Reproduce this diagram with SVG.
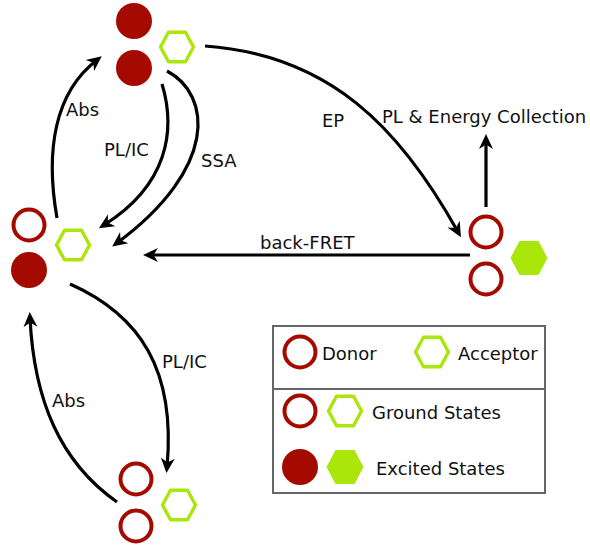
<svg xmlns="http://www.w3.org/2000/svg" xmlns:xlink="http://www.w3.org/1999/xlink" width="590" height="548" viewBox="0 0 590 548">
<style>
text{font-family:"DejaVu Sans",Verdana,sans-serif;font-size:18px;fill:#111}
.dO{fill:none;stroke:#a50a00;stroke-width:4}
.dF{fill:#a50a00}
.aO{fill:none;stroke:#aae60a;stroke-width:3.4;stroke-linejoin:round}
.aF{fill:#aae60a}
.c{fill:none;stroke:#000;stroke-width:3.2;marker-end:url(#ah)}
</style>
<defs>
<marker id="ah" markerUnits="userSpaceOnUse" markerWidth="20" markerHeight="20" refX="10" refY="10" orient="auto" viewBox="0 0 20 20">
<path d="M16,10 L1,3 L5.5,10 L1,17 Z" fill="#000"/>
</marker>
<polygon id="hex" points="16.5,0 8.5,14.8 -8.5,14.8 -16.5,0 -8.5,-14.8 8.5,-14.8"/>
<polygon id="hexF" points="18.5,0 9.5,17 -9.5,17 -18.5,0 -9.5,-17 9.5,-17"/>
</defs>
<rect width="590" height="548" fill="#fff"/>
<g id="connectors">
<path class="c" d="M57,218 C45,150 55,92 97,60"/>
<path class="c" d="M162,84 C176,130 168,185 104,225"/>
<path class="c" d="M167,71 C212,95 218,168 117,243"/>
<path class="c" d="M470,255 L149,255"/>
<path class="c" d="M205,46 C330,55 400,128 458,232"/>
<path class="c" d="M486,207 L486,140"/>
<path class="c" d="M70,284 C140,315 176,370 167,467"/>
<path class="c" d="M117,502 C60,462 34,400 30,318"/>
</g>
<g id="labels">
<text x="66" y="116">Abs</text>
<text x="104" y="156">PL/IC</text>
<text x="201" y="167">SSA</text>
<text x="322" y="127">EP</text>
<text x="382" y="123">PL &amp; Energy Collection</text>
<text x="260" y="249">back-FRET</text>
<text x="162" y="368">PL/IC</text>
<text x="52" y="407">Abs</text>
</g>
<g id="node-top">
<circle class="dF" cx="134" cy="21" r="18"/>
<circle class="dF" cx="134" cy="68" r="18"/>
<use href="#hex" xlink:href="#hex" class="aO" x="177" y="47"/>
</g>
<g id="node-left">
<circle class="dO" cx="29" cy="225" r="15.5"/>
<circle class="dF" cx="29" cy="270" r="18"/>
<use href="#hex" xlink:href="#hex" class="aO" x="73" y="245"/>
</g>
<g id="node-right">
<circle class="dO" cx="486" cy="232" r="15.5"/>
<circle class="dO" cx="486" cy="279" r="15.5"/>
<use href="#hexF" xlink:href="#hexF" class="aF" x="529" y="258"/>
</g>
<g id="node-bottom">
<circle class="dO" cx="136" cy="479" r="15.5"/>
<circle class="dO" cx="136" cy="526" r="15.5"/>
<use href="#hex" xlink:href="#hex" class="aO" x="179" y="505"/>
</g>
<g id="legend">
<rect x="273" y="326" width="272" height="167" fill="none" stroke="#666" stroke-width="2"/>
<line x1="273" y1="389" x2="545" y2="389" stroke="#666" stroke-width="2"/>
<circle class="dO" cx="300" cy="352" r="15.5"/>
<text x="322" y="360">Donor</text>
<use href="#hex" xlink:href="#hex" class="aO" x="432" y="352"/>
<text x="458" y="360">Acceptor</text>
<circle class="dO" cx="300" cy="411" r="15.5"/>
<use href="#hex" xlink:href="#hex" class="aO" x="345" y="411"/>
<text x="372" y="419">Ground States</text>
<circle class="dF" cx="300" cy="467" r="18"/>
<use href="#hexF" xlink:href="#hexF" class="aF" x="345" y="467"/>
<text x="376" y="475">Excited States</text>
</g>
</svg>
